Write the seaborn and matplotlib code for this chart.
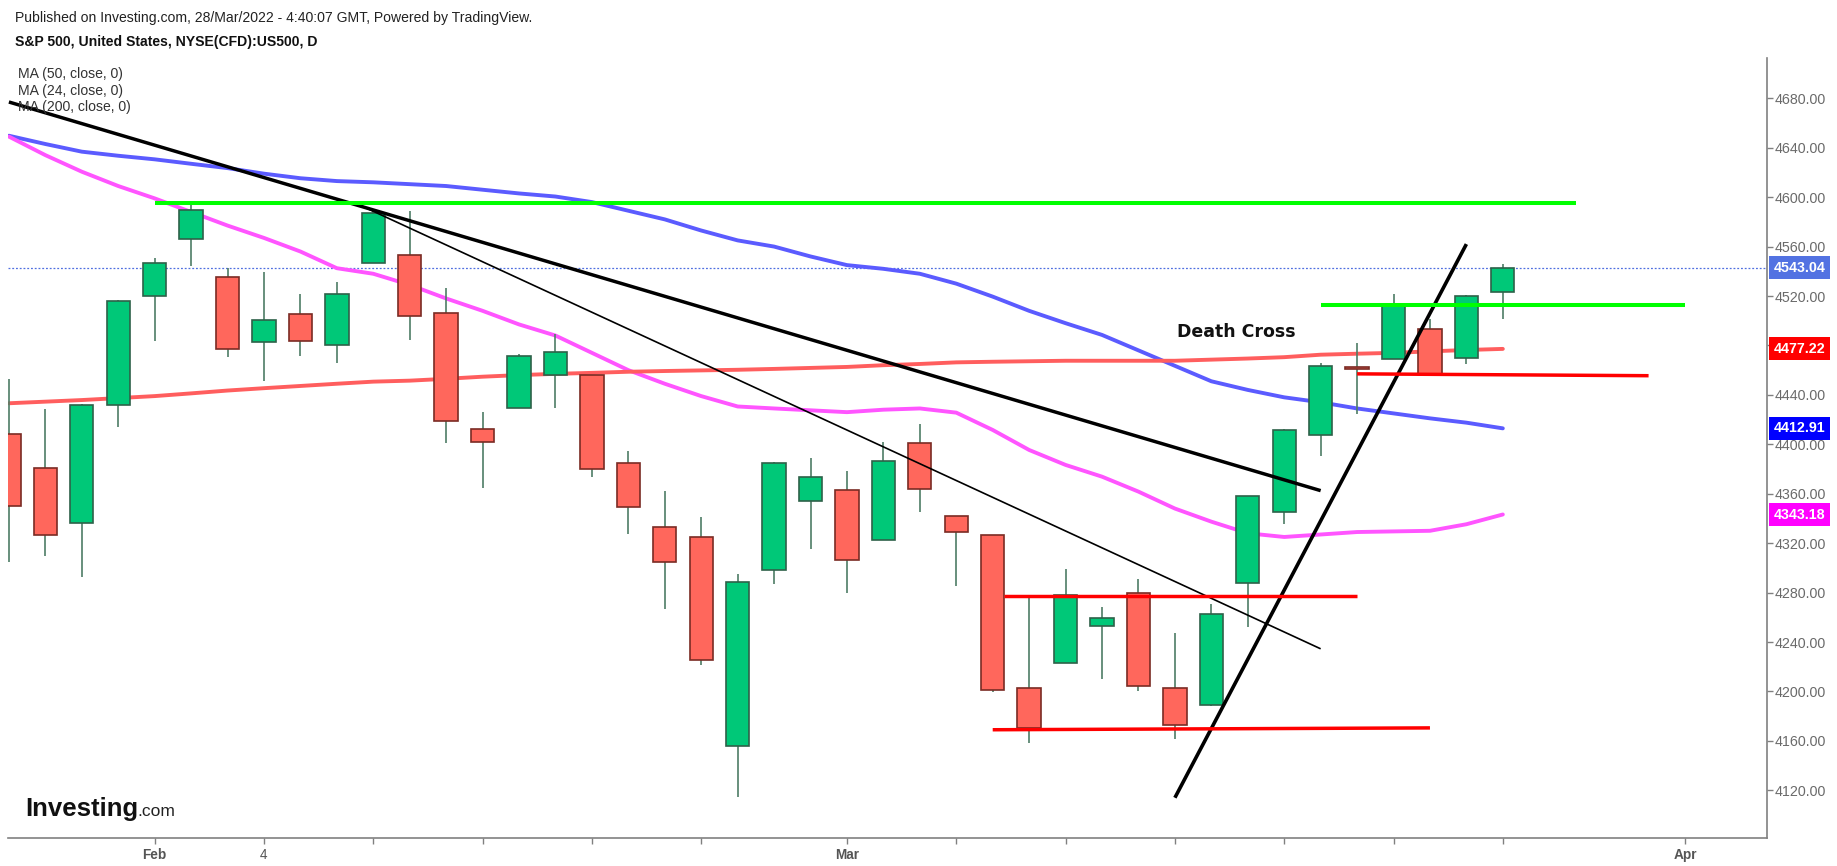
import matplotlib
matplotlib.use("Agg")
import matplotlib.pyplot as plt
import pandas as pd
import seaborn as sns

# trading days on the chart (21 Feb closed)
holidays = [pd.Timestamp("2022-02-21")]
calendar = [d for d in pd.bdate_range("2022-01-26", "2022-04-08") if d not in holidays]
dates = [d for d in calendar if d <= pd.Timestamp("2022-03-25")]

opens = [4408.4, 4380.6, 4336.2, 4431.8, 4519.6, 4566.4, 4535.4, 4482.8, 4505.8, 4480.0,
         4547.0, 4553.2, 4506.3, 4412.6, 4429.3, 4455.8, 4456.1, 4384.6, 4332.7, 4324.9,
         4155.8, 4298.4, 4354.2, 4363.1, 4322.6, 4401.3, 4342.1, 4327.0, 4202.7, 4223.1,
         4252.6, 4279.5, 4202.8, 4188.8, 4288.1, 4345.1, 4407.3, 4462.4, 4469.1, 4493.1,
         4470.0, 4522.9]
highs = [4453.2, 4428.7, 4432.7, 4516.9, 4550.5, 4595.3, 4542.9, 4539.7, 4521.9, 4531.3,
         4590.0, 4588.9, 4526.3, 4426.2, 4472.8, 4489.6, 4456.1, 4394.6, 4362.1, 4341.5,
         4294.7, 4385.3, 4388.8, 4378.5, 4401.5, 4416.8, 4342.1, 4327.0, 4276.9, 4299.4,
         4268.3, 4291.0, 4247.6, 4271.1, 4358.0, 4412.7, 4465.4, 4481.8, 4522.0, 4501.1,
         4520.6, 4546.0]
lows = [4304.8, 4309.5, 4292.5, 4414.0, 4483.5, 4544.3, 4470.4, 4451.5, 4471.5, 4465.4,
        4547.0, 4484.3, 4401.4, 4364.8, 4429.3, 4429.7, 4373.8, 4327.2, 4267.1, 4221.5,
        4114.7, 4286.8, 4315.1, 4279.5, 4322.6, 4345.6, 4285.0, 4199.9, 4157.9, 4223.1,
        4209.8, 4200.5, 4161.7, 4187.9, 4252.0, 4335.7, 4390.6, 4424.3, 4469.1, 4455.8,
        4465.2, 4501.1]
closes = [4349.9, 4326.5, 4431.9, 4515.6, 4546.5, 4589.4, 4477.4, 4500.5, 4483.9, 4521.5,
          4587.2, 4504.1, 4418.6, 4401.7, 4471.1, 4475.0, 4380.3, 4348.9, 4304.8, 4225.5,
          4288.7, 4384.7, 4373.9, 4306.3, 4386.5, 4363.5, 4328.9, 4201.1, 4170.7, 4277.9,
          4259.5, 4204.3, 4173.1, 4262.5, 4357.9, 4411.7, 4463.1, 4461.2, 4511.6, 4456.2,
          4520.2, 4543.0]

ma50 = [4649.7, 4643.0, 4636.8, 4633.5, 4630.6, 4627.0, 4623.5, 4619.0, 4615.3, 4613.0,
        4612.0, 4610.5, 4609.0, 4606.0, 4603.0, 4600.5, 4596.0, 4589.0, 4582.0, 4573.0,
        4565.0, 4560.0, 4552.0, 4545.0, 4542.0, 4538.0, 4530.0, 4519.5, 4508.0, 4498.0,
        4488.5, 4476.0, 4463.5, 4451.0, 4444.0, 4438.0, 4434.0, 4429.0, 4425.0, 4421.0,
        4417.5, 4412.9]
ma24 = [4649.0, 4634.0, 4620.6, 4609.0, 4599.0, 4588.0, 4577.0, 4567.0, 4556.0, 4542.5,
        4538.0, 4529.0, 4518.0, 4508.0, 4497.0, 4488.0, 4474.0, 4460.0, 4449.0, 4439.0,
        4430.6, 4429.0, 4427.5, 4426.0, 4428.0, 4429.0, 4425.6, 4411.6, 4395.4, 4383.3,
        4373.8, 4361.7, 4348.0, 4337.4, 4328.0, 4325.0, 4327.0, 4329.0, 4329.5, 4330.0,
        4335.3, 4343.2]
ma200 = [4433.2, 4434.5, 4435.8, 4437.4, 4439.0, 4441.2, 4443.5, 4445.4, 4447.2, 4449.0,
         4450.7, 4451.5, 4453.0, 4454.7, 4456.0, 4457.0, 4457.8, 4458.7, 4459.3, 4459.8,
         4460.3, 4461.0, 4461.8, 4462.6, 4464.0, 4465.0, 4466.3, 4466.8, 4467.2, 4467.6,
         4467.6, 4467.6, 4467.6, 4468.5, 4469.4, 4470.5, 4472.5, 4473.3, 4474.0, 4475.2,
         4476.3, 4477.2]

last_price = 4543.04
ma_last = {"MA50": 4412.91, "MA24": 4343.18, "MA200": 4477.22}

# hand-drawn lines: (bar number, price) pairs
black_thick = [(0, 4677), (36, 4362.5)]
black_thin = [(9.6, 4594), (36, 4234.5)]
black_rising = [(32, 4114), (40, 4562)]
green_levels = [[(4, 4595), (43, 4595)], [(36, 4513), (46, 4513)]]
red_levels = [[(37, 4457), (45, 4455.5)], [(27.3, 4277), (37, 4277)], [(27, 4169), (39, 4170.5)]]
death_cross = (32.05, 4491)

y_ticks = list(range(4120, 4681, 40))
x_tick_days = ["2022-02-01", "2022-02-04", "2022-02-09", "2022-02-14", "2022-02-17",
               "2022-02-23", "2022-03-01", "2022-03-04", "2022-03-09", "2022-03-14",
               "2022-03-17", "2022-03-22", "2022-03-25", "2022-04-01"]
x_tick_labels = ["Feb", "4", "", "", "", "", "Mar", "", "", "", "", "", "", "Apr"]

W, H = 1837, 866
sns.set_theme(style="white")
plt.rcParams["font.family"] = ["Liberation Sans", "DejaVu Sans"]

fig = plt.figure(figsize=(W / 100, H / 100), dpi=100)
ax = fig.add_axes([8 / W, (H - 838) / H, (1767 - 8) / W, (838 - 58) / H])

pos = list(range(len(dates)))

# moving averages
ma_df = pd.DataFrame({
    "pos": pos * 3,
    "value": ma50 + ma24 + ma200,
    "ma": ["MA50"] * len(pos) + ["MA24"] * len(pos) + ["MA200"] * len(pos),
})
ma_colors = {"MA50": "#5B5BFF", "MA24": "#FF55FF", "MA200": "#FF5E5E"}
sns.lineplot(data=ma_df, x="pos", y="value", hue="ma", palette=ma_colors,
             linewidth=2.8, legend=False, ax=ax, zorder=2)

# candles
up = [c >= o for o, c in zip(opens, closes)]
body_lo = [min(o, c) for o, c in zip(opens, closes)]
body_h = [max(abs(c - o), 1.0) for o, c in zip(opens, closes)]
ax.vlines(pos, lows, highs, color="#4E7D66", linewidth=1.2, zorder=3)
ax.bar(pos, body_h, bottom=body_lo, width=0.64,
       color=["#00C878" if u else "#FF675C" for u in up],
       edgecolor=["#2E6149" if u else "#7A2B24" for u in up],
       linewidth=1.2, zorder=4)

# drawings
for seg, lw in [(black_thick, 2.5), (black_thin, 1.2), (black_rising, 2.6)]:
    ax.plot([p[0] for p in seg], [p[1] for p in seg], color="black", linewidth=lw,
            solid_capstyle="butt", zorder=5)
for seg in green_levels:
    ax.plot([p[0] for p in seg], [p[1] for p in seg], color="#00FF00", linewidth=2.9,
            solid_capstyle="butt", zorder=5)
for seg in red_levels:
    ax.plot([p[0] for p in seg], [p[1] for p in seg], color="#FF0000", linewidth=2.5,
            solid_capstyle="butt", zorder=5)
ax.text(death_cross[0], death_cross[1], "Death Cross", family="DejaVu Sans",
        fontsize=12.5, fontweight="bold", color="#111111", ha="left", va="center", zorder=6)

ax.axhline(last_price, color="#4F6FE0", linewidth=0.9, linestyle=(0, (1.5, 1.5)), zorder=1.5)

# axes
ax.set_xlim(-0.025, 48.25)
ax.set_ylim(4081.4, 4712.6)
ax.set(xlabel=None, ylabel=None)
ax.grid(False)
for side in ["left", "top"]:
    ax.spines[side].set_visible(False)
for side in ["right", "bottom"]:
    ax.spines[side].set_color("#808080")
    ax.spines[side].set_linewidth(1.2)

ax.yaxis.tick_right()
ax.set_yticks(y_ticks, [f"{v:.2f}" for v in y_ticks])
ax.tick_params(axis="y", right=True, left=False, length=4, width=1, color="#808080",
               labelcolor="#6a6a6a", labelsize=10.3, pad=1.5)
tick_pos = [calendar.index(pd.Timestamp(d)) for d in x_tick_days]
ax.set_xticks(tick_pos, x_tick_labels)
ax.tick_params(axis="x", bottom=True, length=4, width=1, color="#808080",
               labelcolor="#555555", labelsize=9.8, pad=3)
for lab in ax.get_xticklabels():
    if lab.get_text() in ("Feb", "Mar", "Apr"):
        lab.set_fontweight("bold")

# price labels on the scale
for value, color in [(last_price, "#5272E2"), (ma_last["MA200"], "#FF0000"),
                     (ma_last["MA50"], "#0000FF"), (ma_last["MA24"], "#FF00FF")]:
    ax.annotate(f"{value:.2f}", xy=(1, value), xycoords=("axes fraction", "data"),
                xytext=(7, 0), textcoords="offset pixels", ha="left", va="center",
                color="white", fontsize=10.3, fontweight="bold", zorder=7,
                bbox=dict(boxstyle="square,pad=0.32", fc=color, ec="none"), annotation_clip=False)

# header texts
def ftext(px, py, s, va="center", **kw):
    return fig.text(px / W, 1 - py / H, s, va=va, ha="left", **kw)

ftext(15, 18, "Published on Investing.com, 28/Mar/2022 - 4:40:07 GMT, Powered by TradingView.",
      fontsize=10.1, color="#222222")
ftext(15, 42, "S&P 500, United States, NYSE(CFD):US500, D", fontsize=10.1,
      fontweight="bold", color="#111111")
for k, s in enumerate(["MA (50, close, 0)", "MA (24, close, 0)", "MA (200, close, 0)"]):
    ftext(18, 74 + k * 16.5, s, fontsize=10.1, color="#333333")

logo = ftext(25, 816, "Investing", va="baseline", fontsize=18.5, fontweight="bold",
             color="#111111")
ax.annotate(".com", xy=(1, 0), xycoords=logo, xytext=(-1, 5.5), textcoords="offset pixels",
            fontsize=12.5, color="#222222", ha="left", va="baseline", annotation_clip=False)

fig.savefig("out.png", dpi=100, facecolor="white")
